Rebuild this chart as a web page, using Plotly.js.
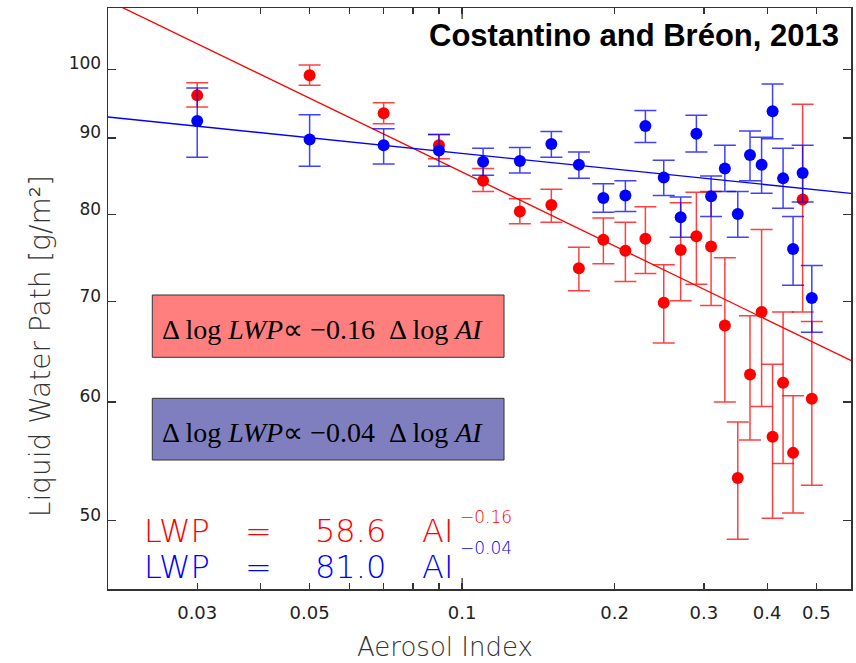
<!DOCTYPE html>
<html>
<head>
<meta charset="utf-8">
<script src="https://cdn.plot.ly/plotly-3.0.1.min.js"></script>
<style>html,body{margin:0;padding:0;background:#fff;}#chart{width:856px;height:663px;}</style>
</head>
<body>
<div id="chart"></div>
<script>
// Aerosol Index bins
const aerosolIndex = [0.03,0.05,0.07,0.09,0.11,0.13,0.15,0.17,0.19,0.21,0.23,0.25,0.27,0.29,0.31,0.33,0.35,0.37,0.39,0.41,0.43,0.45,0.47,0.49];

// Red series (LWP, upper and lower error bounds)
const redLWP   = [96.1,99.1,93.5,89.0,84.3,80.4,81.2,73.7,77.0,75.7,77.1,69.9,75.8,77.4,76.2,67.5,53.4,62.6,68.9,56.9,61.8,55.5,81.9,60.3];
const redUpper = [98.0,100.7,95.0,90.5,85.9,82.0,83.2,76.1,79.6,79.1,81.0,74.1,81.5,82.8,82.9,74.9,58.2,68.5,78.2,63.6,68.9,60.6,94.8,67.9];
const redLower = [94.4,97.6,92.0,87.2,82.9,78.9,79.1,71.2,74.2,72.2,73.1,65.7,70.1,71.9,69.6,60.0,48.6,56.6,59.6,50.2,54.6,50.6,68.9,52.8];

// Blue series
const blueLWP   = [92.4,89.8,89.0,88.3,86.8,86.9,89.2,86.4,82.1,82.4,91.7,84.7,79.7,90.6,82.3,85.9,80.1,87.7,86.4,93.8,84.6,75.9,85.3,70.4];
const blueUpper = [97.2,93.3,91.3,90.5,88.6,88.7,90.9,88.1,83.9,84.3,93.9,87.0,82.2,93.2,84.9,89.0,82.9,91.0,90.1,97.8,88.6,79.8,89.0,74.0];
const blueLower = [87.4,86.2,86.5,86.2,85.0,85.3,87.4,84.6,80.3,80.4,89.4,82.4,77.3,88.1,79.8,82.9,77.3,84.3,82.7,89.9,80.8,71.8,81.6,66.8];

// Fit lines (end points)
const fitX      = [0.018, 0.6];
const redFitY   = [113.1, 63.7];
const blueFitY  = [93.3, 82.6];

// Tick labels
const xTickVals  = [0.03,0.05,0.1,0.2,0.3,0.4,0.5];
const xTickText  = ['0.03','0.05','0.1','0.2','0.3','0.4','0.5'];
const xMinorVals = [0.04,0.06,0.07,0.08,0.09];
const yTickVals  = [50,60,70,80,90,100];
const yTickText  = ['50','60','70','80','90','100'];

const RED = '#ff0000', BLUE = '#0000ff';
const diff = (a, b) => a.map((v, i) => v - b[i]);

const traces = [
  {x: fitX, y: redFitY, mode: 'lines', line: {color: RED, width: 1.3}, hoverinfo: 'skip', showlegend: false},
  {x: fitX, y: blueFitY, mode: 'lines', line: {color: BLUE, width: 1.3}, hoverinfo: 'skip', showlegend: false},
  {x: aerosolIndex, y: redLWP, mode: 'markers', type: 'scatter',
   marker: {color: RED, size: 12},
   error_y: {type: 'data', symmetric: false, array: diff(redUpper, redLWP), arrayminus: diff(redLWP, redLower),
             color: 'rgba(255,0,0,0.75)', thickness: 1.5, width: 11},
   showlegend: false},
  {x: aerosolIndex, y: blueLWP, mode: 'markers', type: 'scatter',
   marker: {color: BLUE, size: 12},
   error_y: {type: 'data', symmetric: false, array: diff(blueUpper, blueLWP), arrayminus: diff(blueLWP, blueLower),
             color: 'rgba(0,0,255,0.75)', thickness: 1.5, width: 11},
   showlegend: false}
];

const axisCol = '#333';
const tickFont = {family: 'DejaVu Sans', size: 17, color: '#222'};
const eqFont = (c, s) => ({family: 'DejaVu Sans', size: s, color: c, weight: 200});
const boxFont = {family: 'Liberation Serif, Times New Roman, serif', size: 28, color: '#000'};
const EQ = 32;
const yR = 0.1000, yB = 0.0380;

const layout = {
  width: 856, height: 663,
  margin: {l: 108, r: 5, t: 8, b: 74},
  paper_bgcolor: '#fff', plot_bgcolor: '#fff',
  xaxis: {
    type: 'log', range: [Math.log10(0.02), Math.log10(0.5855)],
    tickmode: 'array', tickvals: xTickVals, ticktext: xTickText,
    ticks: 'inside', ticklen: 6, tickwidth: 1.3, tickcolor: axisCol,
    minor: {tickmode: 'array', tickvals: xMinorVals, ticks: 'inside', ticklen: 6, tickwidth: 1.3, tickcolor: axisCol, showgrid: false},
    showline: true, linecolor: axisCol, linewidth: 1.5, mirror: 'allticks',
    showgrid: false, zeroline: false, tickfont: {family: 'DejaVu Sans', size: 18, color: '#222'},
    ticklabelstandoff: 7
  },
  yaxis: {
    type: 'log', range: [Math.log10(45.03), Math.log10(109.9)],
    tickmode: 'array', tickvals: yTickVals, ticktext: yTickText,
    ticks: 'inside', ticklen: 8, tickwidth: 1.3, tickcolor: axisCol,
    showline: true, linecolor: axisCol, linewidth: 1.5, mirror: 'allticks',
    showgrid: false, zeroline: false, tickfont: tickFont,
    ticklabelshift: -6, ticklabelstandoff: 2
  },
  shapes: [
    {type: 'line', xref: 'x', yref: 'paper', x0: 0.1, x1: 0.1, y0: 0, y1: 11, ysizemode: 'pixel', yanchor: 0, line: {color: axisCol, width: 1.3}},
    {type: 'line', xref: 'x', yref: 'paper', x0: 0.1, x1: 0.1, y0: 0, y1: -11, ysizemode: 'pixel', yanchor: 1, line: {color: axisCol, width: 1.3}},
    {type: 'rect', xref: 'paper', yref: 'paper', x0: 0.0596, x1: 0.533, y0: 0.3988, y1: 0.506,
     fillcolor: '#ff7f7f', line: {color: '#333', width: 1}},
    {type: 'rect', xref: 'paper', yref: 'paper', x0: 0.0596, x1: 0.533, y0: 0.222, y1: 0.3282,
     fillcolor: '#7f7fbf', line: {color: '#333', width: 1}}
  ],
  annotations: [
    {xref: 'paper', yref: 'paper', x: 0.9865, y: 0.952, xanchor: 'right', yanchor: 'middle', showarrow: false,
     text: '<b>Costantino and Bréon, 2013</b>', font: {family: 'Liberation Sans, Arial', size: 31, color: '#000'}},
    {xref: 'paper', yref: 'paper', x: 0.0700, y: 0.4458, xanchor: 'left', yanchor: 'middle', showarrow: false,
     text: 'Δ log <i>LWP</i>∝ −0.16  Δ log <i>AI</i>', font: boxFont},
    {xref: 'paper', yref: 'paper', x: 0.0700, y: 0.2697, xanchor: 'left', yanchor: 'middle', showarrow: false,
     text: 'Δ log <i>LWP</i>∝ −0.04  Δ log <i>AI</i>', font: boxFont},
    // equations
    {xref: 'paper', yref: 'paper', x: 0.0458, y: yR, xanchor: 'left', yanchor: 'middle', showarrow: false, text: 'LWP', font: eqFont(RED, EQ)},
    {xref: 'paper', yref: 'paper', x: 0.1817, y: yR, xanchor: 'left', yanchor: 'middle', showarrow: false, text: '=', font: eqFont(RED, EQ)},
    {xref: 'paper', yref: 'paper', x: 0.2759, y: yR, xanchor: 'left', yanchor: 'middle', showarrow: false, text: '58.6', font: eqFont(RED, EQ)},
    {xref: 'paper', yref: 'paper', x: 0.4199, y: yR, xanchor: 'left', yanchor: 'middle', showarrow: false, text: 'AI', font: eqFont(RED, EQ)},
    {xref: 'paper', yref: 'paper', x: 0.4711, y: 0.1239, xanchor: 'left', yanchor: 'middle', showarrow: false, text: '−0.16', font: eqFont(RED, 17)},
    {xref: 'paper', yref: 'paper', x: 0.0458, y: yB, xanchor: 'left', yanchor: 'middle', showarrow: false, text: 'LWP', font: eqFont(BLUE, EQ)},
    {xref: 'paper', yref: 'paper', x: 0.1817, y: yB, xanchor: 'left', yanchor: 'middle', showarrow: false, text: '=', font: eqFont(BLUE, EQ)},
    {xref: 'paper', yref: 'paper', x: 0.2759, y: yB, xanchor: 'left', yanchor: 'middle', showarrow: false, text: '81.0', font: eqFont(BLUE, EQ)},
    {xref: 'paper', yref: 'paper', x: 0.4199, y: yB, xanchor: 'left', yanchor: 'middle', showarrow: false, text: 'AI', font: eqFont(BLUE, EQ)},
    {xref: 'paper', yref: 'paper', x: 0.4711, y: 0.0706, xanchor: 'left', yanchor: 'middle', showarrow: false, text: '−0.04', font: eqFont(BLUE, 17)},
    // axis titles
    {xref: 'paper', yref: 'paper', x: 0.4536, y: -0.0995, xanchor: 'center', yanchor: 'middle', showarrow: false,
     text: 'Aerosol Index', font: {family: 'DejaVu Sans', size: 26, color: '#333', weight: 200}},
    {xref: 'paper', yref: 'paper', x: -0.0915, y: 0.418, xanchor: 'center', yanchor: 'middle', showarrow: false, textangle: -90,
     text: 'Liquid Water Path [g/m²]', font: {family: 'DejaVu Sans', size: 28, color: '#333', weight: 200}}
  ]
};

Plotly.newPlot('chart', traces, layout, {displayModeBar: false, staticPlot: true});
</script>
</body>
</html>
